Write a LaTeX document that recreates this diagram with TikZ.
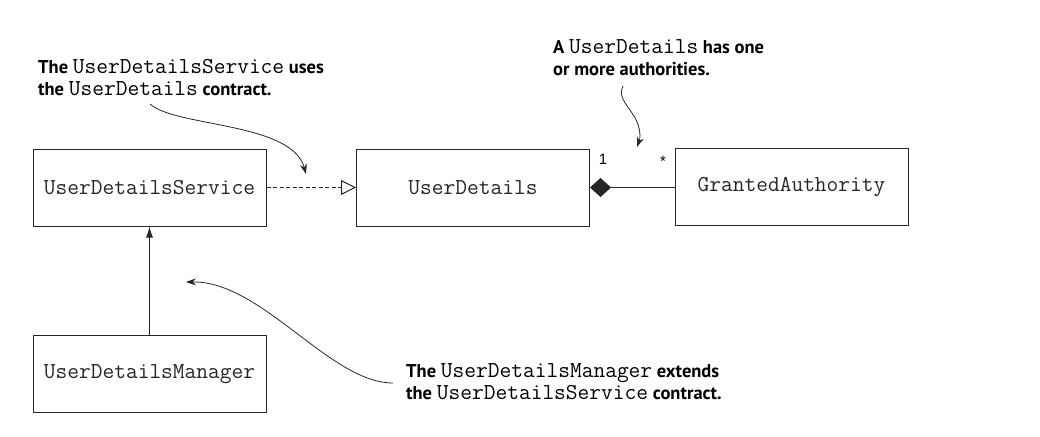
\documentclass[tikz,border=0pt]{standalone}
\usepackage{fontspec}
\setmainfont{PT Sans}
\newfontfamily\labfont{PT Sans}
\newfontfamily\numfont{Liberation Sans}
\usetikzlibrary{arrows.meta}
\newcommand\mycode[1]{{\ttfamily\mdseries\fontsize{22.8}{24}\selectfont #1}}
\begin{document}
\begin{tikzpicture}[x=1pt,y=-1pt,
  cls/.style={draw=black!85, line width=1pt, minimum width=233pt, minimum height=77pt, inner sep=0pt,
    text=black!85, font=\ttfamily\fontsize{22.8}{24}\selectfont},
  note/.style={anchor=base west, inner sep=0pt, font=\labfont\bfseries\fontsize{18.5}{22}\selectfont},
  callout/.style={line width=0.8pt, draw=black!85, -{Stealth[length=10pt,width=7pt]}},
  mult/.style={font=\numfont\fontsize{15}{16}\selectfont, inner sep=0pt}]
\useasboundingbox (0,0) rectangle (1040,436);

% classes
\node[cls] (uds) at (149.5,187.5) {UserDetailsService};
\node[cls] (ud)  at (473,187.5)   {UserDetails};
\node[cls] (ga)  at (791.5,186.5) {GrantedAuthority};
\node[cls] (udm) at (149.5,374)   {UserDetailsManager};

% relations
\draw[line width=1pt, draw=black!85, dash pattern=on 4pt off 2.5pt,
      -{Triangle[open,length=15pt,width=15pt]}] (uds.east) -- (ud.west);
\draw[line width=1pt, draw=black!85, -{Latex[length=11pt,width=7pt]}] (udm.north) -- (uds.south);
\draw[line width=1pt, draw=black!85, {Diamond[length=21pt,width=19pt]}-] (ud.east) -- (ga.west |- ud.east);

\node[mult] (m1) at (603,159) {1};
\node[mult] (m2) at (663,161) {*};

% notes
\node[note] (n1a) at (38,73) {The \mycode{UserDetailsService} uses};
\node[note] (n1b) at (38,95) {the \mycode{UserDetails} contract.};
\node[note] (n2a) at (553,53) {A \mycode{UserDetails} has one};
\node[note] (n2b) at (553,75) {or more authorities.};
\node[note] (n3a) at (406,377) {The \mycode{UserDetailsManager} extends};
\node[note] (n3b) at (406,399) {the \mycode{UserDetailsService} contract.};

% callouts
\coordinate (c1s) at (150,104);
\coordinate (c1e) at (306,174);
\draw[callout] (c1s) .. controls (175,127) and (292,122) .. (c1e);

\coordinate (c2s) at (623,86);
\coordinate (c2m) at (632,113);
\coordinate (c2e) at (637,147);
\draw[callout] (c2s) .. controls (618,96) and (626,104) .. (c2m) .. controls (640,124) and (641,136) .. (c2e);

\coordinate (c3s) at (393,383);
\coordinate (c3e) at (186,282);
\draw[callout] (c3s) .. controls (330,383) and (262,281) .. (c3e);
\end{tikzpicture}
\end{document}
